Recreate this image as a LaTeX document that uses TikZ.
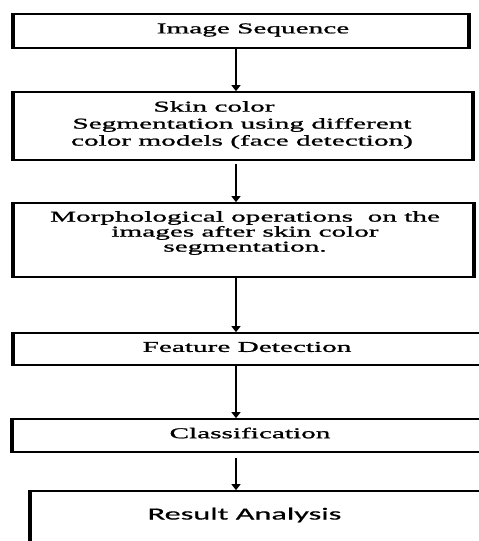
\documentclass[tikz,border=0pt]{standalone}
\usepackage{fontspec}
\setmainfont{Liberation Serif}[FakeStretch=1.95,FakeBold=1.2]
\newfontfamily\resfont{Carlito}[FakeStretch=1.9,FakeBold=0.8]
\usetikzlibrary{arrows.meta}
\tikzset{
  box/.style={draw=black, line width=1.7pt, inner sep=0pt, fill=none},
  sidebar/.style={line width=4pt, black},
  txt/.style={inner sep=0pt, align=center, text=black, font=\fontsize{15}{17}\selectfont},
  arr/.style={line width=1.4pt, -{Triangle[width=9pt,length=6pt]}}
}
\begin{document}
\begin{tikzpicture}[x=1pt,y=-1pt]
\useasboundingbox (0,0) rectangle (479,541);
\clip (0,0) rectangle (479,541);
% boxes
\node[box, minimum width=454pt, minimum height=34pt] (b1) at (241,31) {};
\node[box, minimum width=458pt, minimum height=68pt] (b2) at (243,126) {};
\node[box, minimum width=459pt, minimum height=74pt] (b3) at (243.5,240) {};
\node[box, minimum width=480pt, minimum height=32pt] (b4) at (254,349) {};
\node[box, minimum width=480pt, minimum height=33pt] (b5) at (253,435.5) {};
\node[box, minimum width=480pt, minimum height=70pt] (b6) at (271,526) {};
\foreach \n in {b1,b2,b3,b4,b5,b6}{
  \draw[sidebar] (\n.north west) -- (\n.south west);
  \draw[sidebar] (\n.north east) -- (\n.south east);
}
% texts
\node[txt] (t1) at (253,30) {Image Sequence};
\node[txt] (t2) at (242,125) {Skin color\hspace*{56pt}\\Segmentation using different\\color models (face detection)};
\node[txt, font=\fontsize{15}{15}\selectfont] (t3) at (245,233) {Morphological operations\ \ on the\\images after skin color\\segmentation.};
\node[txt] (t4) at (247,347) {Feature Detection};
\node[txt] (t5) at (250,433) {Classification};
\node[txt, font=\resfont\fontsize{17}{19}\selectfont] (t6) at (244.5,515) {Result Analysis};
% arrows
\coordinate (ax) at (236,0);
\draw[arr] (b1.south -| ax) -- (b2.north -| ax);
\draw[arr, shorten <=3pt] (b2.south -| ax) -- (b3.north -| ax);
\draw[arr] (b3.south -| ax) -- (b4.north -| ax);
\draw[arr] (b4.south -| ax) -- (b5.north -| ax);
\draw[arr, shorten <=5pt] (b5.south -| ax) -- (b6.north -| ax);
\end{tikzpicture}
\end{document}
